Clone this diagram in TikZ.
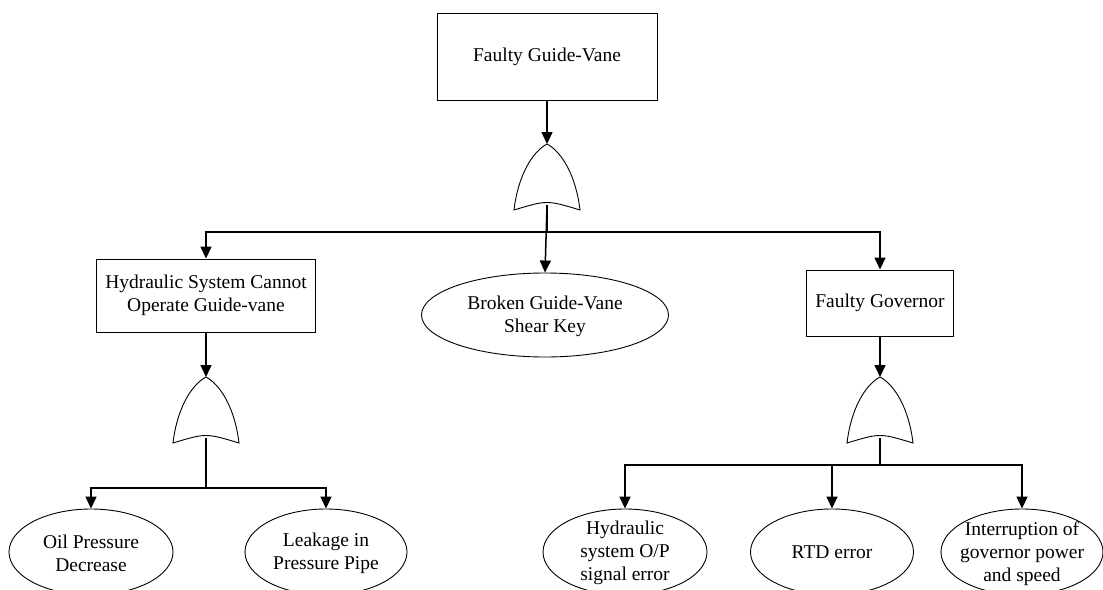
\documentclass[tikz,border=0pt]{standalone}
\usepackage{fontspec}
\setmainfont{Liberation Serif}
\usetikzlibrary{shapes.geometric,arrows.meta}
\begin{document}
\begin{tikzpicture}[x=1pt,y=-1pt,
  every node/.style={font=\fontsize{19.5}{23}\selectfont},
  event box/.style={draw, line width=0.9pt, rectangle, inner sep=0pt, align=center},
  basic event/.style={draw, line width=0.9pt, ellipse, inner sep=0pt},
  caption/.style={align=center, inner sep=0pt},
  link/.style={line width=1.5pt, -{Triangle[length=12pt,width=11pt]}},
  wire/.style={line width=1.5pt},
  orgate/.pic={
    \draw[line width=0.9pt, fill=white] (-33,66) .. controls (-29,32) and (-15,8) .. (0,0)
        .. controls (15,8) and (29,32) .. (33,66)
        .. controls (0,56) .. (-33,66) -- cycle;
    \coordinate (-in) at (0,0);
    \coordinate (-out) at (0,61);
  }]
\useasboundingbox (0,0) rectangle (1103,589);
\clip (0,0) rectangle (1103,589);

% top event
\node[event box, minimum width=220pt, minimum height=87pt] (top) at (547,56.5) {Faulty Guide-Vane};
\pic (g1) at (547,144) {orgate};

% second level
\node[event box, minimum width=219pt, minimum height=73pt] (hyd) at (206,295.5)
  {Hydraulic System Cannot\\Operate Guide-vane};
\node[basic event, minimum width=247pt, minimum height=84pt] (shear) at (545,315) {};
\node[caption] (shearT) at (545,316) {Broken Guide-Vane\\Shear Key};
\node[event box, minimum width=147pt, minimum height=66pt] (gov) at (880,303) {Faulty Governor};

\pic (g2) at (206,377) {orgate};
\pic (g3) at (880,377) {orgate};

% basic events
\node[basic event, minimum width=164pt, minimum height=86pt] (oil) at (91,552) {};
\node[caption] (oilT) at (91,553.5) {Oil Pressure\\Decrease};
\node[basic event, minimum width=162pt, minimum height=86pt] (leak) at (326,552) {};
\node[caption] (leakT) at (326,553.5) {Leakage in\\Pressure Pipe};
\node[basic event, minimum width=164pt, minimum height=86pt] (sig) at (625,552) {};
\node[caption] (sigT) at (625,553) {Hydraulic\\system O/P\\signal error};
\node[basic event, minimum width=163pt, minimum height=86pt] (rtd) at (832,552) {};
\node[caption] (rtdT) at (832,552) {RTD error};
\node[basic event, minimum width=162pt, minimum height=86pt] (intr) at (1022,552) {};
\node[caption] (intrT) at (1022,554) {Interruption of\\governor power\\and speed};

% junction points
\coordinate (j1) at (547,232);
\coordinate (j2) at (206,488);
\coordinate (j3) at (880,465);

% connectors
\draw[link] (top.south) -- (g1-in);
\draw[link] (g1-out) -- (shear.north);
\draw[wire] (g1-out) -- (j1);
\draw[link] (j1) -| (hyd.north);
\draw[link] (j1) -| (gov.north);

\draw[link] (hyd.south) -- (g2-in);
\draw[wire] (g2-out) -- (j2);
\draw[link] (j2) -| (oil.north);
\draw[link] (j2) -| (leak.north);

\draw[link] (gov.south) -- (g3-in);
\draw[wire] (g3-out) -- (j3);
\draw[link] (j3) -| (sig.north);
\draw[link] (j3) -| (rtd.north);
\draw[link] (j3) -| (intr.north);
\end{tikzpicture}
\end{document}
